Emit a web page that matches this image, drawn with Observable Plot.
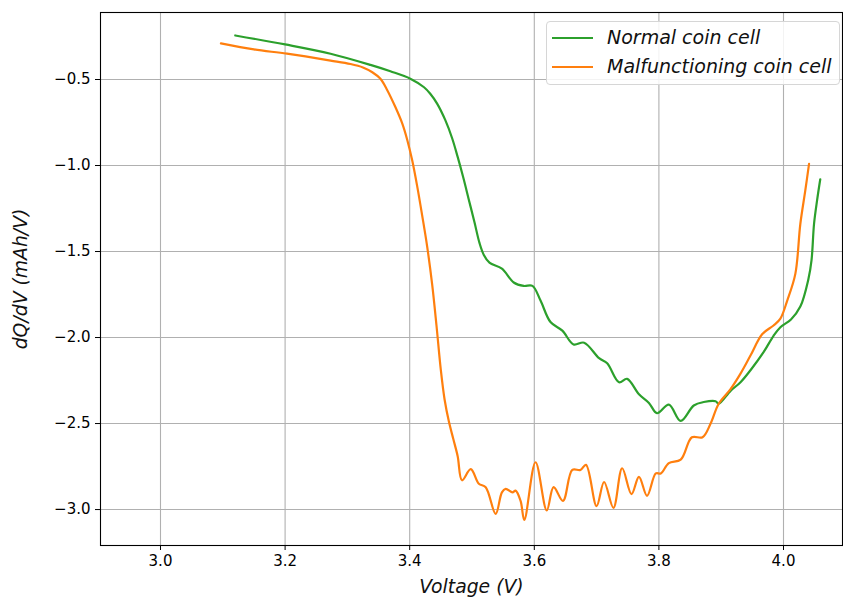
<!DOCTYPE html>
<html>
<head>
<meta charset="utf-8">
<script src="https://cdn.jsdelivr.net/npm/d3@7"></script>
<script src="https://cdn.jsdelivr.net/npm/@observablehq/plot@0.6"></script>
<style>
  html, body { margin: 0; padding: 0; background: white; }
  #wrap { position: relative; width: 843px; height: 604px; font-family: "DejaVu Sans", sans-serif; }
  #legend { position: absolute; left: 546px; top: 21px; width: 292px; height: 62px;
    border: 1px solid #d6d6d6; border-radius: 4px; background: rgba(255,255,255,0.85); }
  .lg-line { position: absolute; left: 5px; width: 41px; height: 0; border-top: 2.2px solid; }
  .lg-text { position: absolute; left: 60px; font-style: italic; font-size: 19px; line-height: 1; color: #111; white-space: nowrap; }
</style>
</head>
<body>
<div id="wrap"></div>
<script>
const seriesNames = ["Normal coin cell", "Malfunctioning coin cell"];
const seriesColors = ["#2ca02c", "#ff7f0e"];
const xTicks = [3.0, 3.2, 3.4, 3.6, 3.8, 4.0];
const yTicks = [-0.5, -1.0, -1.5, -2.0, -2.5, -3.0];

const normalV = [3.120, 3.200, 3.273, 3.337, 3.369, 3.401, 3.423, 3.433, 3.444, 3.457, 3.468, 3.477, 3.486, 3.495, 3.504, 3.512, 3.519, 3.528, 3.548, 3.567, 3.583, 3.597, 3.610, 3.626, 3.645, 3.663, 3.680, 3.704, 3.717, 3.736, 3.749, 3.768, 3.784, 3.797, 3.816, 3.835, 3.856, 3.872, 3.891, 3.896, 3.915, 3.931, 3.947, 3.968, 3.984, 3.995, 4.012, 4.027, 4.040, 4.045, 4.049, 4.054, 4.059];
const normalD = [-0.244, -0.296, -0.35, -0.415, -0.452, -0.495, -0.545, -0.583, -0.64, -0.735, -0.84, -0.95, -1.07, -1.20, -1.33, -1.45, -1.52, -1.565, -1.60, -1.68, -1.70, -1.70, -1.785, -1.91, -1.96, -2.04, -2.03, -2.12, -2.15, -2.26, -2.24, -2.33, -2.38, -2.44, -2.39, -2.485, -2.395, -2.375, -2.37, -2.385, -2.31, -2.26, -2.19, -2.085, -1.99, -1.94, -1.895, -1.82, -1.66, -1.55, -1.34, -1.20, -1.08];

const malfV = [3.097, 3.150, 3.203, 3.273, 3.305, 3.325, 3.340, 3.353, 3.364, 3.377, 3.388, 3.396, 3.404, 3.412, 3.420, 3.428, 3.436, 3.443, 3.450, 3.456, 3.463, 3.470, 3.477, 3.484, 3.498, 3.511, 3.522, 3.538, 3.548, 3.554, 3.565, 3.570, 3.578, 3.584, 3.602, 3.620, 3.631, 3.646, 3.661, 3.674, 3.683, 3.700, 3.712, 3.727, 3.741, 3.756, 3.768, 3.781, 3.795, 3.803, 3.816, 3.835, 3.853, 3.870, 3.883, 3.896, 3.915, 3.931, 3.947, 3.966, 3.984, 3.995, 4.006, 4.019, 4.027, 4.035, 4.041];
const malfD = [-0.29, -0.325, -0.35, -0.39, -0.41, -0.43, -0.458, -0.496, -0.562, -0.66, -0.755, -0.85, -0.97, -1.12, -1.29, -1.47, -1.69, -1.93, -2.19, -2.36, -2.49, -2.59, -2.69, -2.83, -2.765, -2.85, -2.87, -3.025, -2.90, -2.88, -2.90, -2.89, -2.95, -3.06, -2.725, -3.005, -2.87, -2.95, -2.77, -2.77, -2.74, -2.98, -2.84, -2.99, -2.76, -2.91, -2.81, -2.92, -2.79, -2.79, -2.73, -2.71, -2.58, -2.58, -2.50, -2.385, -2.30, -2.21, -2.105, -1.98, -1.93, -1.89, -1.785, -1.63, -1.34, -1.145, -0.99];

const data = [
  ...normalV.map((v, i) => ({v, d: normalD[i], s: seriesNames[0]})),
  ...malfV.map((v, i) => ({v, d: malfD[i], s: seriesNames[1]}))
];

const fmt = d3.format(".1f");

const chart = Plot.plot({
  width: 843,
  height: 604,
  marginLeft: 100,
  marginRight: 1,
  marginTop: 12,
  marginBottom: 59,
  style: {fontFamily: "DejaVu Sans", fontSize: "15px", color: "black", background: "white"},
  x: {domain: [2.9037, 4.0947]},
  y: {domain: [-3.209, -0.1105]},
  color: {domain: seriesNames, range: seriesColors},
  marks: [
    Plot.gridX(xTicks, {stroke: "#b0b0b0", strokeOpacity: 1, strokeWidth: 1.1}),
    Plot.gridY(yTicks, {stroke: "#b0b0b0", strokeOpacity: 1, strokeWidth: 1.1}),
    Plot.line(data, {x: "v", y: "d", z: "s", stroke: "s", strokeWidth: 2.2, curve: "catmull-rom"}),
    Plot.frame({stroke: "black", strokeWidth: 1.1}),
    Plot.axisX(xTicks, {tickFormat: fmt, tickSize: 5, tickPadding: 5, fontSize: 15, label: null, stroke: "black"}),
    Plot.axisY(yTicks, {tickFormat: fmt, tickSize: 5, tickPadding: 5, fontSize: 15, label: null, stroke: "black"}),
    Plot.text(["Voltage (V)"], {frameAnchor: "bottom", dy: 47, fontSize: 18.8, fontStyle: "italic", fill: "#111"}),
    Plot.text(["dQ/dV (mAh/V)"], {frameAnchor: "left", dx: -80, rotate: -90, textAnchor: "middle", fontSize: 18.8, fontStyle: "italic", fill: "#111"})
  ]
});

const wrap = document.getElementById("wrap");
wrap.appendChild(chart);

const legend = document.createElement("div");
legend.id = "legend";
const rowTops = [16, 45];
seriesNames.forEach((name, i) => {
  const ln = document.createElement("div");
  ln.className = "lg-line";
  ln.style.top = (rowTops[i] - 1) + "px";
  ln.style.borderTopColor = seriesColors[i];
  legend.appendChild(ln);
  const tx = document.createElement("div");
  tx.className = "lg-text";
  tx.style.top = (rowTops[i] - 10) + "px";
  tx.textContent = name;
  legend.appendChild(tx);
});
wrap.appendChild(legend);
</script>
</body>
</html>
